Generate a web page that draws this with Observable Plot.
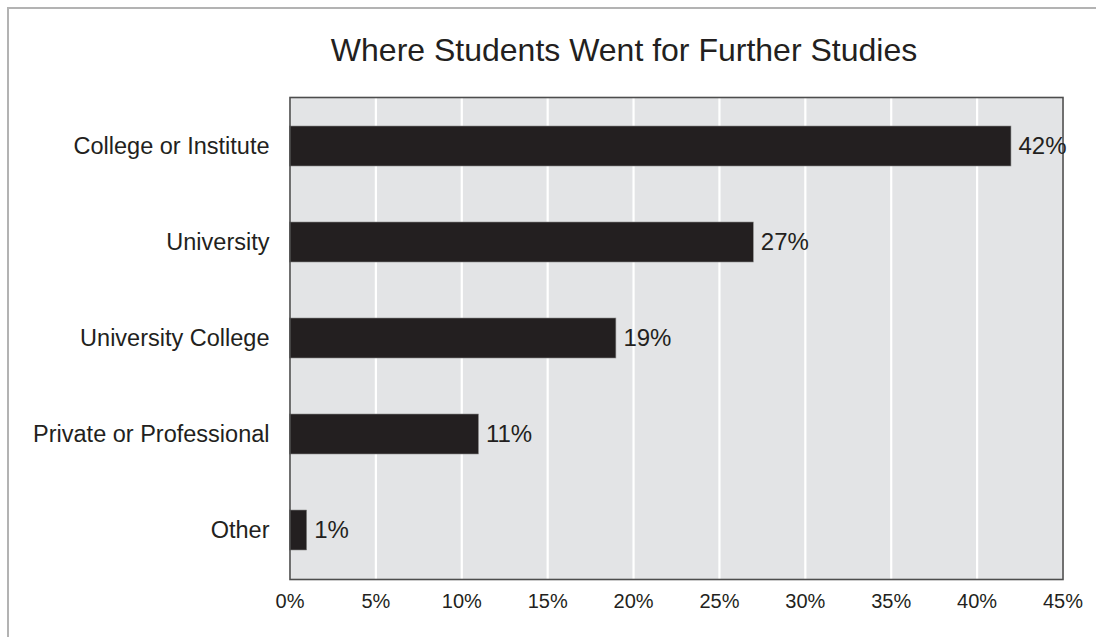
<!DOCTYPE html>
<html>
<head>
<meta charset="utf-8">
<script src="https://cdn.jsdelivr.net/npm/d3@7"></script>
<script src="https://cdn.jsdelivr.net/npm/@observablehq/plot@0.6"></script>
<style>
  html, body { margin: 0; padding: 0; background: #fff; }
  #wrap { position: relative; width: 1096px; height: 637px; overflow: hidden; font-family: "Liberation Sans", Arial, sans-serif; }
  #border { position: absolute; left: 7px; top: 7px; width: 1200px; height: 800px; border: 2px solid #b3b3b3; box-sizing: border-box; }
  #title { position: absolute; top: 30px; left: 324px; width: 600px; text-align: center; font-size: 32px; color: #231f20; line-height: 40px; white-space: nowrap; }
  #chart { position: absolute; left: 0; top: 0; }
</style>
</head>
<body>
<div id="wrap">
  <div id="border"></div>
  <div id="title">Where Students Went for Further Studies</div>
  <div id="chart"></div>
</div>
<script>
const categories = ["College or Institute", "University", "University College", "Private or Professional", "Other"];
const values = [42, 27, 19, 11, 1];
const xTicks = [0, 5, 10, 15, 20, 25, 30, 35, 40, 45];

const data = categories.map((c, i) => ({category: c, value: values[i]}));

const chart = Plot.plot({
  width: 1096,
  height: 637,
  marginLeft: 289.5,
  marginRight: 33.5,
  marginTop: 97,
  marginBottom: 58,
  style: {fontFamily: "'Liberation Sans', Arial, sans-serif", color: "#231f20", background: "transparent", overflow: "visible"},
  x: {domain: [0, 45], label: null},
  y: {domain: categories, paddingInner: 0.585, paddingOuter: 0.2925, label: null},
  marks: [
    Plot.frame({fill: "#e3e4e6", stroke: "none"}),
    Plot.gridX(xTicks, {stroke: "#ffffff", strokeWidth: 2.2, strokeOpacity: 1}),
    Plot.barX(data, {x: "value", y: "category", fill: "#231f20", stroke: "#8a8a8a", strokeWidth: 0.6}),
    Plot.frame({stroke: "#4d4d4d", strokeWidth: 1.6}),
    Plot.text(data, {x: "value", y: "category", text: d => d.value + "%", textAnchor: "start", dx: 7, fontSize: 24, fill: "#231f20"}),
    Plot.axisX({ticks: xTicks, tickFormat: d => d + "%", tickSize: 0, tickPadding: 14, fontSize: 20, label: null, fill: "#231f20"}),
    Plot.axisY({tickSize: 0, tickPadding: 20.5, fontSize: 23.5, label: null, fill: "#231f20"})
  ]
});
document.getElementById("chart").appendChild(chart);
</script>
</body>
</html>
